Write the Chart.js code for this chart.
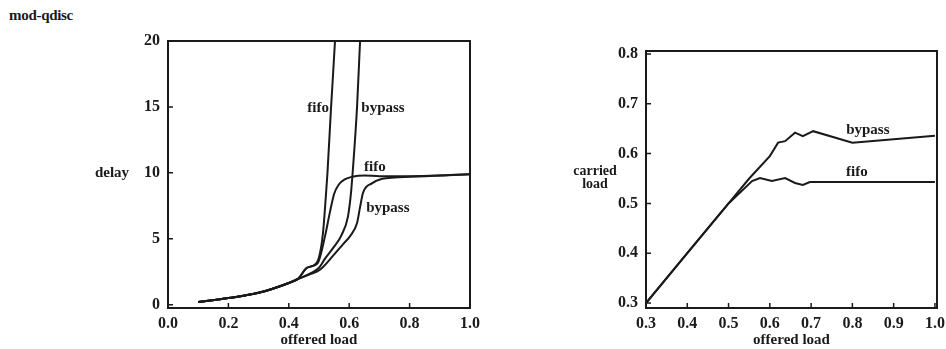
<!DOCTYPE html>
<html lang="en">
<head>
<meta charset="UTF-8">
<title>mod-qdisc</title>
<script src="https://cdn.jsdelivr.net/npm/chart.js"></script>
<style>
  body { margin: 0; background: #fff; }
  .page { position: relative; width: 946px; height: 349px; font-family: "Liberation Serif", serif; color: #1a1a1a; }
  .title { position: absolute; left: 9px; top: 7px; font-size: 15px; font-weight: bold; letter-spacing: -0.3px; }
  .panel { position: absolute; top: 0; }
  #delayChart { left: 0; }
  #loadChart { left: 480px; }
</style>
</head>
<body>
<div class="page">
  <div class="title">mod-qdisc</div>
  <canvas id="delayChart" class="panel" width="480" height="349"></canvas>
  <canvas id="loadChart" class="panel" width="466" height="349"></canvas>
</div>
<script>
const ink = "#1a1a1a";
const serif = '"Liberation Serif", "Times New Roman", serif';

// delay vs offered load
const fifoSteepLoad   = [0.10, 0.20, 0.30, 0.40, 0.43, 0.46, 0.48, 0.50, 0.513, 0.522, 0.528, 0.540, 0.553, 0.558];
const fifoSteepDelay  = [0.2, 0.5, 0.9, 1.65, 1.95, 2.8, 2.95, 3.6, 5.4, 8.0, 10.0, 15.0, 20.0, 22.5];
const fifoSatLoad     = [0.10, 0.20, 0.30, 0.40, 0.43, 0.46, 0.48, 0.497, 0.52, 0.536, 0.55, 0.565, 0.585, 0.61, 0.65, 0.70, 0.80, 0.90, 1.00];
const fifoSatDelay    = [0.2, 0.5, 0.9, 1.65, 1.95, 2.8, 2.95, 3.2, 5.2, 7.0, 8.4, 9.1, 9.5, 9.7, 9.8, 9.75, 9.75, 9.8, 9.9];
const bypassSteepLoad  = [0.10, 0.20, 0.30, 0.40, 0.43, 0.47, 0.50, 0.52, 0.55, 0.575, 0.596, 0.606, 0.613, 0.626, 0.636, 0.642];
const bypassSteepDelay = [0.2, 0.5, 0.9, 1.65, 1.95, 2.35, 2.8, 3.5, 4.4, 5.3, 6.7, 8.5, 10.5, 15.0, 20.0, 22.5];
const bypassSatLoad    = [0.10, 0.20, 0.30, 0.40, 0.43, 0.47, 0.503, 0.546, 0.58, 0.603, 0.626, 0.636, 0.646, 0.675, 0.709, 0.75, 0.80, 0.90, 1.00];
const bypassSatDelay   = [0.2, 0.5, 0.9, 1.65, 1.95, 2.3, 2.65, 3.7, 4.6, 5.2, 6.2, 7.4, 8.5, 9.2, 9.55, 9.65, 9.7, 9.8, 9.9];

// carried load vs offered load
const fifoCarriedLoad    = [0.30, 0.40, 0.50, 0.557, 0.576, 0.605, 0.637, 0.661, 0.68, 0.697, 0.80, 0.90, 1.00];
const fifoCarried        = [0.30, 0.40, 0.50, 0.545, 0.551, 0.545, 0.551, 0.541, 0.537, 0.543, 0.543, 0.543, 0.543];
const bypassCarriedLoad  = [0.30, 0.40, 0.50, 0.55, 0.60, 0.62, 0.637, 0.661, 0.68, 0.705, 0.80, 0.90, 1.00];
const bypassCarried      = [0.30, 0.40, 0.50, 0.55, 0.595, 0.622, 0.625, 0.642, 0.635, 0.645, 0.622, 0.629, 0.636];

// tick labels
const delayXTicks = [0, 0.2, 0.4, 0.6, 0.8, 1.0];
const delayYTicks = [0, 5, 10, 15, 20];
const loadXTicks  = [0.3, 0.4, 0.5, 0.6, 0.7, 0.8, 0.9, 1.0];
const loadYTicks  = [0.3, 0.4, 0.5, 0.6, 0.7, 0.8];

// curve names written next to the lines: [text, offered load, value]
const delayNotes = [["fifo", 0.497, 14.9], ["bypass", 0.712, 14.9], ["fifo", 0.685, 10.45], ["bypass", 0.728, 7.35]];
const loadNotes  = [["bypass", 0.8375, 0.647], ["fifo", 0.811, 0.563]];

const zip = (xs, ys) => xs.map((x, i) => ({ x, y: ys[i] }));

// box, inward ticks, curve names and a horizontal y title
const framePlugin = {
  id: "frame",
  afterDraw(chart, args, opts) {
    const { ctx, chartArea: a, scales: { x, y } } = chart;
    ctx.save();
    ctx.strokeStyle = ink;
    ctx.lineWidth = 2;
    ctx.strokeRect(a.left, a.top, a.right - a.left, a.bottom - a.top);
    ctx.lineWidth = 1.5;
    ctx.beginPath();
    x.ticks.forEach(t => {
      const px = x.getPixelForValue(t.value);
      ctx.moveTo(px, a.bottom); ctx.lineTo(px, a.bottom - 5);
    });
    y.ticks.forEach(t => {
      const py = y.getPixelForValue(t.value);
      ctx.moveTo(a.left, py); ctx.lineTo(a.left + 5, py);
    });
    ctx.stroke();

    ctx.fillStyle = ink;
    ctx.textAlign = "center";
    ctx.textBaseline = "middle";
    ctx.font = "bold 15px " + serif;
    opts.notes.forEach(([text, lx, ly]) => {
      ctx.fillText(text, x.getPixelForValue(lx), y.getPixelForValue(ly));
    });

    ctx.font = "bold " + opts.titleSize + "px " + serif;
    const cy = y.getPixelForValue(opts.titleAt);
    const n = opts.yTitle.length;
    opts.yTitle.forEach((line, i) => {
      ctx.fillText(line, a.left - opts.titleGap, cy + (i - (n - 1) / 2) * 13);
    });
    ctx.restore();
  }
};

const lineStyle = { borderColor: ink, borderWidth: 2, pointRadius: 0, fill: false };

function axis(min, max, ticks, decimals, fit, extra) {
  return Object.assign({
    type: "linear",
    min, max,
    grid: { display: false, drawTicks: false },
    border: { display: false },
    ticks: {
      color: ink,
      font: { family: serif, size: 16, weight: "bold" },
      callback: v => v.toFixed(decimals)
    },
    afterBuildTicks: s => { s.ticks = ticks.map(v => ({ value: v })); },
    afterFit: fit
  }, extra);
}

function xAxis(min, max, ticks) {
  const a = axis(min, max, ticks, 1, s => {
    s.height = 41; s.paddingLeft = 0; s.paddingRight = 0;
  }, {
    title: {
      display: true, text: "offered load", color: ink,
      font: { family: serif, size: 15, weight: "bold" },
      padding: { top: 0, bottom: 0 }
    }
  });
  a.ticks.padding = 6;
  return a;
}

function yAxis(min, max, ticks, decimals, width) {
  const a = axis(min, max, ticks, decimals, s => {
    s.width = width; s.paddingTop = 0; s.paddingBottom = 0;
  });
  a.ticks.padding = 8;
  return a;
}

new Chart(document.getElementById("delayChart"), {
  type: "line",
  data: {
    datasets: [
      Object.assign({ label: "fifo", data: zip(fifoSteepLoad, fifoSteepDelay) }, lineStyle),
      Object.assign({ label: "bypass", data: zip(bypassSteepLoad, bypassSteepDelay) }, lineStyle),
      Object.assign({ label: "fifo", data: zip(fifoSatLoad, fifoSatDelay) }, lineStyle),
      Object.assign({ label: "bypass", data: zip(bypassSatLoad, bypassSatDelay) }, lineStyle)
    ]
  },
  options: {
    responsive: false,
    animation: false,
    cubicInterpolationMode: "monotone",
    layout: { padding: { top: 41, right: 10, left: 0, bottom: 0 } },
    plugins: {
      legend: { display: false },
      tooltip: { enabled: false },
      frame: { notes: delayNotes, yTitle: ["delay"], titleAt: 10, titleGap: 56, titleSize: 15 }
    },
    scales: {
      x: xAxis(0, 1, delayXTicks),
      y: yAxis(-0.25, 20, delayYTicks, 0, 168)
    }
  },
  plugins: [framePlugin]
});

new Chart(document.getElementById("loadChart"), {
  type: "line",
  data: {
    datasets: [
      Object.assign({ label: "bypass", data: zip(bypassCarriedLoad, bypassCarried) }, lineStyle),
      Object.assign({ label: "fifo", data: zip(fifoCarriedLoad, fifoCarried) }, lineStyle)
    ]
  },
  options: {
    responsive: false,
    animation: false,
    layout: { padding: { top: 51, right: 9, left: 0, bottom: 0 } },
    plugins: {
      legend: { display: false },
      tooltip: { enabled: false },
      frame: { notes: loadNotes, yTitle: ["carried", "load"], titleAt: 0.552, titleGap: 51, titleSize: 14 }
    },
    scales: {
      x: xAxis(0.3, 1.005, loadXTicks),
      y: yAxis(0.29, 0.806, loadYTicks, 1, 166)
    }
  },
  plugins: [framePlugin]
});
</script>
</body>
</html>
